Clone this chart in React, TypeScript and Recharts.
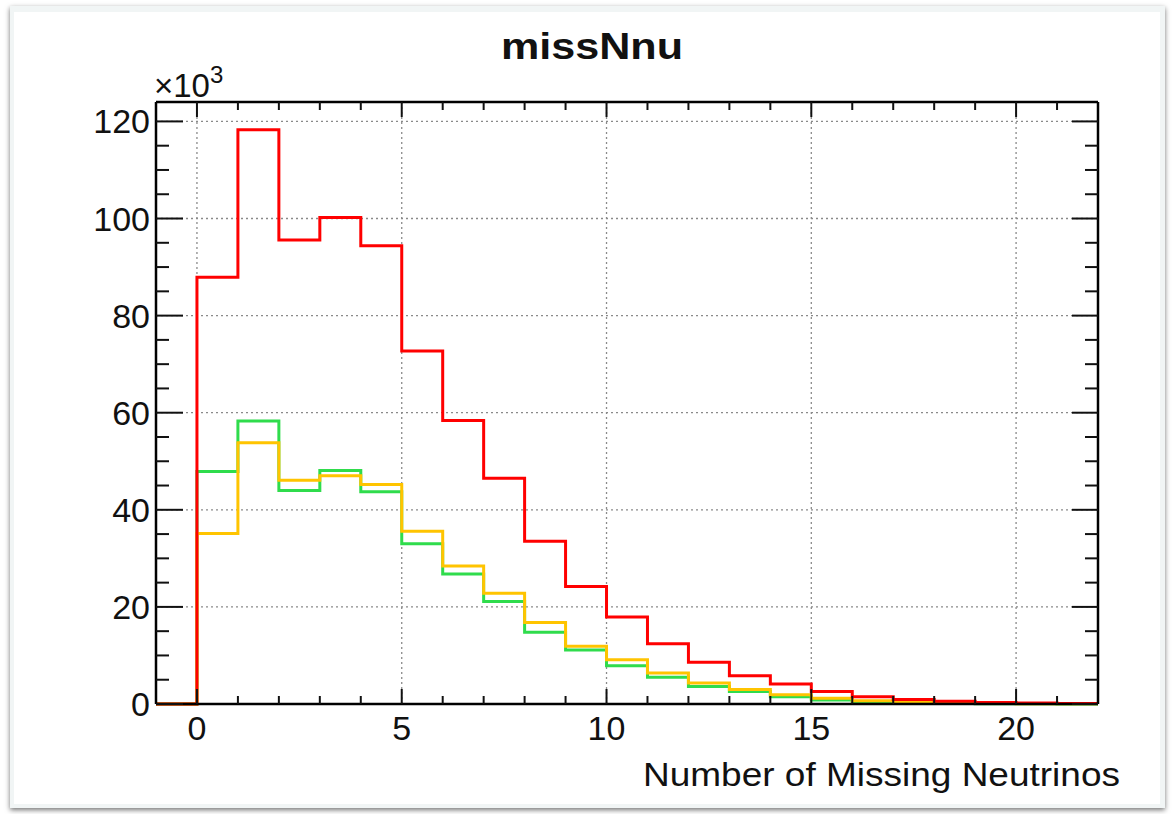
import { ComposedChart, Line, XAxis, YAxis, CartesianGrid } from "recharts"

// bin low edges, width 1, from -1 to 21 (last edge 22 closes the range)
const binEdges = [-1, 0, 1, 2, 3, 4, 5, 6, 7, 8, 9, 10, 11, 12, 13, 14, 15, 16, 17, 18, 19, 20, 21]

// bin contents in units of 10^3 entries
const redCounts = [0, 87.9, 118.3, 95.6, 100.2, 94.4, 72.7, 58.4, 46.5, 33.5, 24.2, 17.9, 12.4, 8.6, 5.8, 4.1, 2.6, 1.5, 0.95, 0.55, 0.3, 0.2, 0.1]
const greenCounts = [0, 47.9, 58.3, 44.0, 48.1, 43.7, 33.0, 26.8, 21.1, 14.8, 11.1, 7.9, 5.5, 3.6, 2.6, 1.5, 0.8, 0.45, 0.25, 0.12, 0.06, 0.03, 0.02]
const yellowCounts = [0, 35.1, 53.8, 46.1, 47.0, 45.2, 35.6, 28.4, 22.8, 16.8, 11.9, 9.1, 6.4, 4.3, 3.0, 1.9, 1.2, 0.65, 0.35, 0.18, 0.09, 0.05, 0.03]

const xMajor = [0, 5, 10, 15, 20]
const xTicks = [0, 1, 2, 3, 4, 5, 6, 7, 8, 9, 10, 11, 12, 13, 14, 15, 16, 17, 18, 19, 20, 21]
const yMajor = [0, 20, 40, 60, 80, 100, 120]
const yTicks = [0, 5, 10, 15, 20, 25, 30, 35, 40, 45, 50, 55, 60, 65, 70, 75, 80, 85, 90, 95, 100, 105, 110, 115, 120]

const FONT = '"Liberation Sans", Arial, Helvetica, sans-serif'
const W = 1173
const H = 814
const TICK = "#111"

// stepAfter needs one extra point at the upper edge to close the last bin
const last = binEdges.length - 1
const data = [
  ...binEdges.map((x, i) => ({ x, red: redCounts[i], green: greenCounts[i], yellow: yellowCounts[i] })),
  { x: binEdges[last] + 1, red: redCounts[last], green: greenCounts[last], yellow: yellowCounts[last] },
]

type TickProps = { x: number; y: number; payload: { value: number } }

// ROOT-style ticks: drawn inward from the frame, labels only on bottom/left
function BottomTick({ x, y, payload }: TickProps) {
  const major = payload.value % 5 === 0
  return (
    <g>
      <line x1={x} x2={x} y1={y} y2={y - (major ? 15 : 8)} stroke={TICK} strokeWidth={2} />
      {major && (
        <text x={x} y={y + 36} textAnchor="middle" fontSize={34} fontFamily={FONT} fill="#111">
          {payload.value}
        </text>
      )}
    </g>
  )
}

function TopTick({ x, y, payload }: TickProps) {
  const major = payload.value % 5 === 0
  return <line x1={x} x2={x} y1={y} y2={y + (major ? 15 : 8)} stroke={TICK} strokeWidth={2} />
}

function LeftTick({ x, y, payload }: TickProps) {
  const major = payload.value % 20 === 0
  return (
    <g>
      <line x1={x} x2={x + (major ? 27 : 13)} y1={y} y2={y} stroke={TICK} strokeWidth={2} />
      {major && (
        <text x={x - 6} y={y + 12} textAnchor="end" fontSize={34} fontFamily={FONT} fill="#111">
          {payload.value}
        </text>
      )}
    </g>
  )
}

function RightTick({ x, y, payload }: TickProps) {
  const major = payload.value % 20 === 0
  return <line x1={x} x2={x - (major ? 26 : 13)} y1={y} y2={y} stroke={TICK} strokeWidth={2} />
}

export default function App() {
  return (
    <div style={{ position: "absolute", left: 0, top: 0, width: W, height: H, background: "#fff", overflow: "hidden" }}>
      <div
        style={{
          position: "absolute",
          left: 10,
          top: 6,
          width: 1155,
          height: 802,
          background: "#f1f5f5",
          boxShadow: "0 2px 5px rgba(0,0,0,0.55)",
        }}
      >
        <div style={{ position: "absolute", left: 4, top: 6, right: 5, bottom: 4, background: "#fff" }} />
      </div>

      <div style={{ position: "absolute", left: 0, top: 0 }}>
        <ComposedChart width={W} height={H} data={data} margin={{ top: 72, right: 35, bottom: 30, left: 56 }}>
          <CartesianGrid
            xAxisId="b"
            yAxisId="l"
            verticalValues={xMajor}
            horizontalValues={yMajor}
            stroke="#8a8a8a"
            strokeWidth={1.3}
            strokeDasharray="2 3"
          />
          <XAxis
            xAxisId="b"
            dataKey="x"
            type="number"
            domain={[-1, 22]}
            ticks={xTicks}
            interval={0}
            tickSize={0}
            tickMargin={0}
            height={80}
            tick={BottomTick}
            axisLine={{ stroke: "#000", strokeWidth: 2.5 }}
          />
          <XAxis
            xAxisId="t"
            orientation="top"
            dataKey="x"
            type="number"
            domain={[-1, 22]}
            ticks={xTicks}
            interval={0}
            tickSize={0}
            tickMargin={0}
            height={30}
            tick={TopTick}
            axisLine={{ stroke: "#000", strokeWidth: 2.5 }}
          />
          <YAxis
            yAxisId="l"
            dataKey="red"
            type="number"
            domain={[0, 124]}
            ticks={yTicks}
            interval={0}
            tickSize={0}
            tickMargin={0}
            width={100}
            tick={LeftTick}
            axisLine={{ stroke: "#000", strokeWidth: 2.5 }}
          />
          <YAxis
            yAxisId="r"
            dataKey="red"
            orientation="right"
            type="number"
            domain={[0, 124]}
            ticks={yTicks}
            interval={0}
            tickSize={0}
            tickMargin={0}
            width={40}
            tick={RightTick}
            axisLine={{ stroke: "#000", strokeWidth: 2.5 }}
          />
          <Line xAxisId="b" yAxisId="l" type="stepAfter" dataKey="green" stroke="#2fdc4c" strokeWidth={3} dot={false} isAnimationActive={false} />
          <Line xAxisId="b" yAxisId="l" type="stepAfter" dataKey="yellow" stroke="#ffc400" strokeWidth={3} dot={false} isAnimationActive={false} />
          <Line xAxisId="b" yAxisId="l" type="stepAfter" dataKey="red" stroke="#ff0000" strokeWidth={3} dot={false} isAnimationActive={false} />
        </ComposedChart>
      </div>

      <svg width={W} height={H} style={{ position: "absolute", left: 0, top: 0, pointerEvents: "none" }}>
        <text
          x={592}
          y={59}
          textAnchor="middle"
          fontSize={37}
          fontWeight="bold"
          fontFamily={FONT}
          fill="#111"
          textLength={182}
          lengthAdjust="spacingAndGlyphs"
        >
          missNnu
        </text>
        <text x={154} y={97} fontSize={33} fontFamily={FONT} fill="#111">
          ×10
          <tspan fontSize={24} dy={-14}>
            3
          </tspan>
        </text>
        <text
          x={1120}
          y={786}
          textAnchor="end"
          fontSize={33}
          fontFamily={FONT}
          fill="#111"
          textLength={477}
          lengthAdjust="spacingAndGlyphs"
        >
          Number of Missing Neutrinos
        </text>
      </svg>
    </div>
  )
}
